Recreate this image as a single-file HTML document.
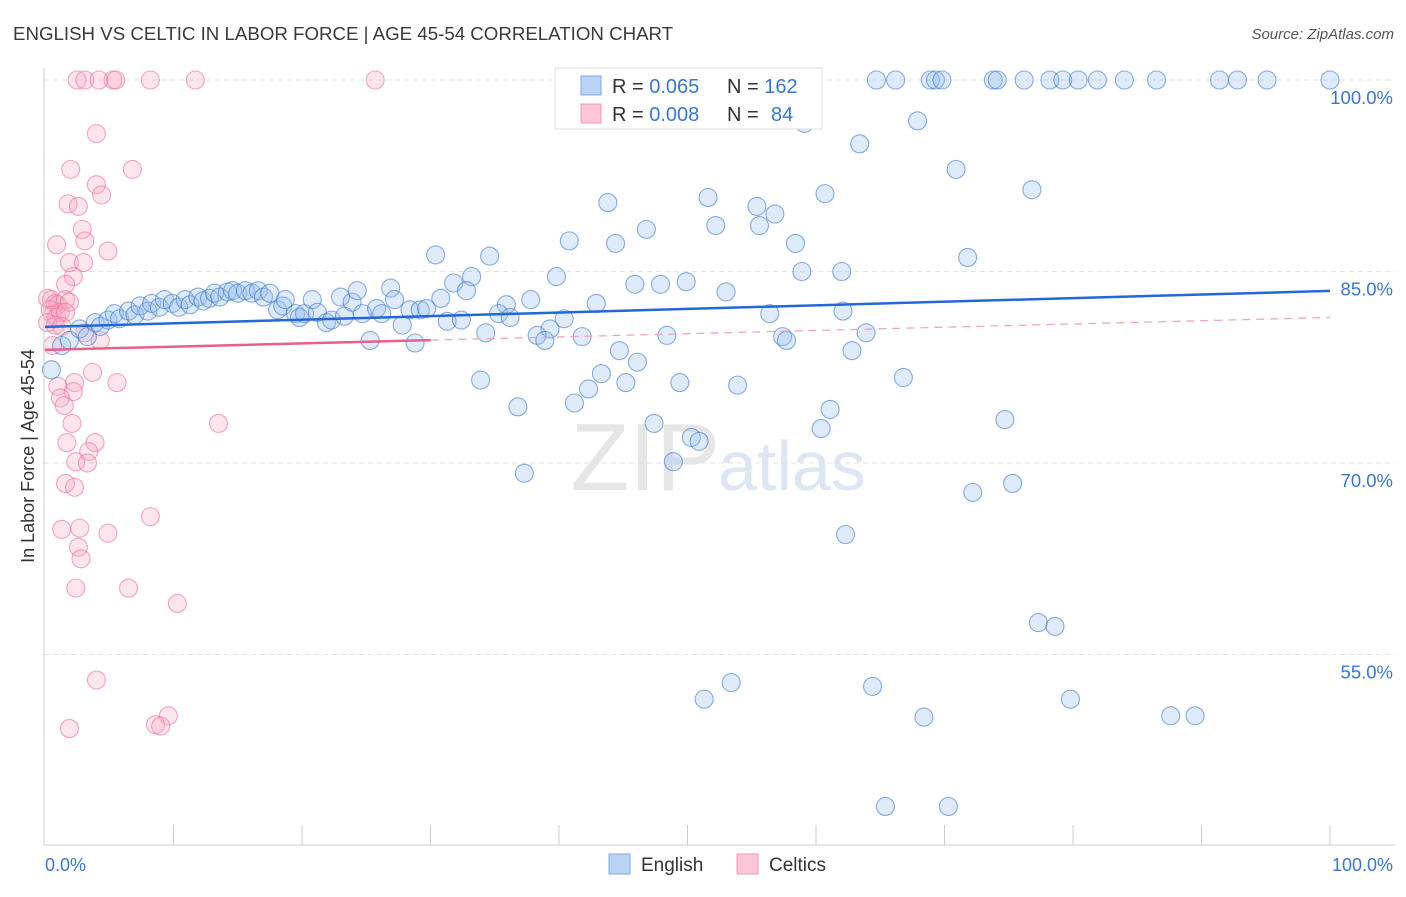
<!DOCTYPE html>
<html><head><meta charset="utf-8"><style>
body{margin:0;background:#fff;font-family:"Liberation Sans",sans-serif}
svg text{font-family:"Liberation Sans",sans-serif}
</style></head><body>
<svg id="c" width="1406" height="892">
<text x="13" y="40" font-size="18.7" fill="#3a3a3a">ENGLISH VS CELTIC IN LABOR FORCE | AGE 45-54 CORRELATION CHART</text>
<text x="1394" y="39" font-size="15" fill="#555" text-anchor="end" font-style="italic">Source: ZipAtlas.com</text>
<text x="720" y="490" font-size="96" fill="#e6e6e6" text-anchor="end" font-family="Liberation Serif">ZIP</text>
<text x="718" y="490" font-size="70" fill="#dde6f3">atlas</text>
<g id="grid"></g><g id="pts"></g><g id="lines"></g>
<line x1="44" y1="68" x2="44" y2="845" stroke="#ccc"/>
<line x1="44" y1="845" x2="1395" y2="845" stroke="#ccc"/>
<text x="45" y="871" font-size="18" fill="#3a76d0">0.0%</text>
<text x="1393" y="871" font-size="18" fill="#3a76d0" text-anchor="end">100.0%</text>
<text transform="translate(34,456) rotate(-90)" font-size="18" fill="#333" text-anchor="middle">In Labor Force | Age 45-54</text>
<g>
<rect x="555" y="68" width="267" height="61" fill="#fff" stroke="#ddd"/>
<rect x="581" y="76" width="20" height="19" fill="#b9d3f5" stroke="#7fa8e0"/>
<rect x="581" y="104" width="20" height="19" fill="#fcc6d6" stroke="#f09ab5"/>
<text x="612" y="93" font-size="20" fill="#333">R = <tspan fill="#3a76d0">0.065</tspan><tspan x="727">N = </tspan><tspan fill="#3a76d0">162</tspan></text>
<text x="612" y="121" font-size="20" fill="#333">R = <tspan fill="#3a76d0">0.008</tspan><tspan x="727">N = </tspan><tspan x="771" fill="#3a76d0">84</tspan></text>
</g>
<g>
<rect x="609" y="854" width="21" height="20" fill="#b9d3f5" stroke="#7fa8e0"/>
<text x="641" y="871" font-size="19" fill="#333">English</text>
<rect x="737" y="854" width="21" height="20" fill="#fcc6d6" stroke="#f09ab5"/>
<text x="769" y="871" font-size="19" fill="#333">Celtics</text>
</g>
</svg>
<script>
const yTicks=[100,85,70,55];
const yTickLabels=["100.0%","85.0%","70.0%","55.0%"];
const xTicks=[10,20,30,40,50,60,70,80,90,100];
const engX=[64.7,66.2,68.9,69.3,69.8,73.8,74.1,76.2,78.2,79.2,80.4,81.9,84.0,86.5,91.4,92.8,95.1,100,59.1,67.9,63.4,70.9,76.8,60.7,51.6,43.8,55.4,56.8,52.2,55.6,46.8,40.8,58.4,44.4,30.4,34.6,71.8,58.9,62.0,39.8,33.2,31.8,45.9,47.9,49.9,32.8,53.0,37.8,30.8,42.9,35.9,35.3,56.4,40.4,36.2,31.3,32.4,62.1,34.3,39.3,38.3,41.8,38.9,48.4,57.4,57.7,63.9,44.7,62.8,46.1,25.3,28.8,43.3,33.9,45.2,42.3,49.4,53.9,66.8,41.2,36.8,61.1,74.7,47.4,60.4,50.3,50.9,48.9,37.3,72.2,75.3,62.3,77.3,78.6,53.4,51.3,64.4,79.8,68.4,87.6,89.5,65.4,70.3,
0.5,1.3,1.9,2.7,3.3,3.9,4.3,4.9,5.4,5.8,6.5,7.0,7.4,8.0,8.3,8.9,9.3,9.9,10.4,10.9,11.3,11.9,12.3,12.8,13.2,13.6,14.2,14.6,15.0,15.6,16.1,16.6,17.0,17.5,18.1,18.5,18.7,19.5,19.8,20.2,20.8,21.2,21.9,22.3,23.0,23.3,23.9,24.3,24.7,25.8,26.2,26.9,27.2,27.8,28.4,29.2,29.7];
const engY=[100,100,100,100,100,100,100,100,100,100,100,100,100,100,100,100,100,100,96.6,96.8,95.0,93.0,91.4,91.1,90.8,90.4,90.1,89.5,88.6,88.6,88.3,87.4,87.2,87.2,86.3,86.2,86.1,85.0,85.0,84.6,84.6,84.1,84.0,84.0,84.2,83.5,83.4,82.8,82.9,82.5,82.4,81.7,81.7,81.3,81.4,81.1,81.2,81.9,80.2,80.5,80.0,79.9,79.6,80.0,79.9,79.6,80.2,78.8,78.8,77.9,79.6,79.4,77.0,76.5,76.3,75.8,76.3,76.1,76.7,74.7,74.4,74.2,73.4,73.1,72.7,72.0,71.7,70.1,69.2,67.7,68.4,64.4,57.5,57.2,52.8,51.5,52.5,51.5,50.1,50.2,50.2,43.1,43.1,
77.3,79.2,79.6,80.5,79.9,81.0,80.7,81.2,81.7,81.3,81.9,81.6,82.3,81.9,82.5,82.2,82.8,82.5,82.2,82.8,82.4,83.0,82.7,82.9,83.3,83.0,83.4,83.5,83.3,83.5,83.3,83.5,83.0,83.3,82.0,82.3,82.8,81.7,81.4,81.7,82.8,81.8,81.0,81.2,83.0,81.5,82.6,83.5,81.7,82.1,81.7,83.7,82.8,80.8,82.0,82.0,82.1];
const celX=[2.5,3.1,4.2,5.3,5.5,8.2,11.7,25.7,4.0,2.0,6.8,4.0,4.4,1.8,2.6,2.9,3.1,0.9,4.9,1.9,3.0,2.2,1.6,0.2,0.5,0.8,1.0,0.4,0.6,0.9,1.2,1.6,1.9,1.6,0.2,0.8,1.3,3.1,4.3,0.6,3.7,5.6,2.3,1.0,2.2,1.2,1.5,2.1,13.5,1.7,3.9,3.4,2.4,3.3,1.6,2.3,8.2,1.3,2.7,4.9,2.6,2.8,2.4,6.5,10.3,4.0,9.6,8.6,9.0,1.9];
const celY=[100,100,100,100,100,100,100,100,95.8,93.0,93.0,91.8,91.0,90.3,90.1,88.3,87.4,87.1,86.6,85.7,85.7,84.6,84.0,82.9,82.8,82.5,82.4,82.0,81.6,81.4,81.8,82.8,82.6,81.8,81.0,80.8,80.7,80.2,79.6,79.2,77.1,76.3,76.3,76.0,75.6,75.1,74.5,73.1,73.1,71.6,71.6,70.9,70.1,70.0,68.4,68.1,65.8,64.8,64.9,64.5,63.4,62.5,60.2,60.2,59.0,53.0,50.2,49.5,49.4,49.2];
const engTrend=[80.66,83.48];
const celTrend=[78.86,81.4];
const celSolidEnd=30;
const NS='http://www.w3.org/2000/svg';
const X=v=>45+v*12.85, Y=v=>80+(100-v)*12.767;
function mk(t,a,p){const e=document.createElementNS(NS,t);for(const k in a)e.setAttribute(k,a[k]);document.getElementById(p).appendChild(e);return e;}
yTicks.forEach((t,i)=>{
 const g=mk('line',{x1:44,x2:1395,y1:Y(t),y2:Y(t),stroke:'#e2e2e2','stroke-dasharray':'5,4'},'grid');
 
 
 const l=mk('text',{x:1393,y:Y(t)+24,'font-size':18.5,fill:'#3a76d0','text-anchor':'end'},'grid');
 l.textContent=yTickLabels[i];
 
 
});
xTicks.forEach(t=>{
 const k=mk('line',{x1:X(t),x2:X(t),y1:825,y2:845,stroke:'#ccc'},'grid');
 
 
});
celX.forEach((x,i)=>{
 const c=mk('circle',{cx:X(x),cy:Y(celY[i]),r:9,fill:'rgba(250,170,195,0.3)',stroke:'rgba(235,110,150,0.6)','stroke-width':1.1},'pts');
 
 
});
engX.forEach((x,i)=>{
 const c=mk('circle',{cx:X(x),cy:Y(engY[i]),r:9,fill:'rgba(150,190,240,0.3)',stroke:'rgba(60,120,210,0.6)','stroke-width':1.1},'pts');
 
 
});
const l1=mk('line',{x1:X(0),x2:X(100),y1:Y(engTrend[0]),y2:Y(engTrend[1]),stroke:'#2468d8','stroke-width':2.5},'lines');


const cm=celTrend[0]+(celTrend[1]-celTrend[0])*celSolidEnd/100;
const l2=mk('line',{x1:X(0),x2:X(celSolidEnd),y1:Y(celTrend[0]),y2:Y(cm),stroke:'#e8608a','stroke-width':2.5},'lines');


const l3=mk('line',{x1:X(celSolidEnd),x2:X(100),y1:Y(cm),y2:Y(celTrend[1]),stroke:'#eea0b8','stroke-width':1.2,'stroke-dasharray':'8,6'},'lines');


</script>
</body></html>
